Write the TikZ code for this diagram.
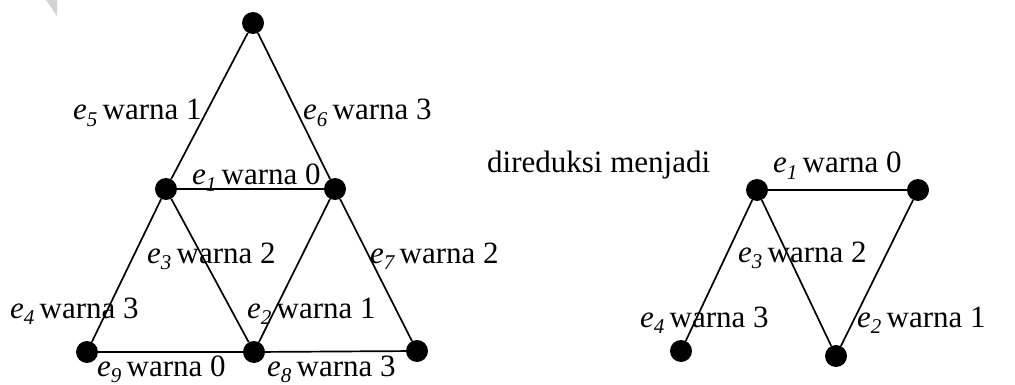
\documentclass[tikz,border=0pt]{standalone}
\usepackage{fontspec}
\setmainfont{Liberation Serif}
\begin{document}
\begin{tikzpicture}[x=1pt,y=-1pt,
  vtx/.style={circle,fill=black,inner sep=0pt,minimum size=22pt},
  edge/.style={line width=1.7pt},
  lbl/.style={anchor=base west,inner sep=0pt,font=\fontsize{31}{35}\selectfont}]
\useasboundingbox (0,0) rectangle (1015,385);
\fill[gray!35] (46,0) -- (57,0) -- (57,16) -- cycle;
% left graph
\node[vtx] (t) at (253,23) {};
\node[vtx] (ml) at (166,189) {};
\node[vtx] (mr) at (335,189) {};
\node[vtx] (bl) at (87,352) {};
\node[vtx] (bm) at (254,352) {};
\node[vtx] (br) at (417,351) {};
\draw[edge] (t) -- (ml);
\draw[edge] (t) -- (mr);
\draw[edge] (ml) -- (mr);
\draw[edge] (ml) -- (bl);
\draw[edge] (ml) -- (bm);
\draw[edge] (mr) -- (bm);
\draw[edge] (mr) -- (br);
\draw[edge] (bl) -- (bm);
\draw[edge] (bm) -- (br);
\newcommand{\lab}[2]{\textit{e}\raisebox{-0.2em}{\fontsize{21}{21}\selectfont\itshape #1}\,warna #2}
\node[lbl] (l5) at (73,120) {\lab{5}{1}};
\node[lbl] (l6) at (303,120) {\lab{6}{3}};
\node[lbl] (l1) at (192,185) {\lab{1}{0}};
\node[lbl] (l3) at (147,263) {\lab{3}{2}};
\node[lbl] (l7) at (370,263) {\lab{7}{2}};
\node[lbl] (l4) at (10,318) {\lab{4}{3}};
\node[lbl] (l2) at (247,318) {\lab{2}{1}};
\node[lbl] (l9) at (97,376) {\lab{9}{0}};
\node[lbl] (l8) at (267,376) {\lab{8}{3}};
\node[lbl] (dr) at (487,172) {direduksi menjadi};
% right graph
\node[vtx] (a) at (757,190) {};
\node[vtx] (b) at (918,190) {};
\node[vtx] (c) at (681,351) {};
\node[vtx] (d) at (836,356) {};
\draw[edge] (a) -- (b);
\draw[edge] (a) -- (c);
\draw[edge] (a) -- (d);
\draw[edge] (b) -- (d);
\node[lbl] (r1) at (773,173) {\lab{1}{0}};
\node[lbl] (r3) at (738,262) {\lab{3}{2}};
\node[lbl] (r4) at (640,327) {\lab{4}{3}};
\node[lbl] (r2) at (857,327) {\lab{2}{1}};
\end{tikzpicture}
\end{document}
